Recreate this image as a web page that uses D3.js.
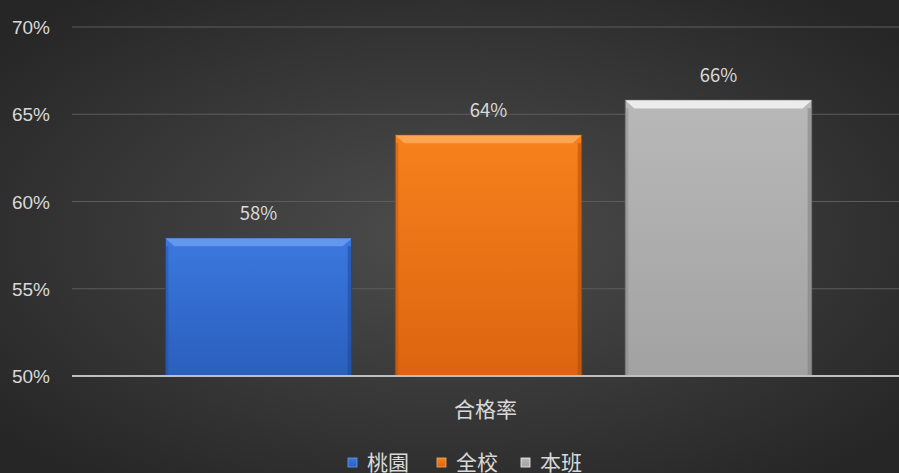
<!DOCTYPE html>
<html>
<head>
<meta charset="utf-8">
<script src="https://cdn.jsdelivr.net/npm/d3@7"></script>
<style>
  html, body { margin: 0; padding: 0; background: #333; overflow: hidden; }
  svg { display: block; font-family: "Microsoft YaHei", "Noto Sans CJK SC", "DejaVu Sans", sans-serif; }
</style>
</head>
<body>
<script>
var categories = ["合格率"];
var seriesNames = ["桃園", "全校", "本班"];
var seriesValues = [0.579, 0.638, 0.658];
var seriesLabels = ["58%", "64%", "66%"];
var tickValues = [0.50, 0.55, 0.60, 0.65, 0.70];

var W = 899, H = 473;
var margin = { top: 27, right: -6, bottom: 97, left: 72 };

var colors = {
    "桃園": { top: "#3b78de", bottom: "#2a5fbd", edge: "#6a9ef0", dark: "#1c4590" },
    "全校": { top: "#f7811c", bottom: "#dc6410", edge: "#ffab5c", dark: "#a84a08" },
    "本班": { top: "#b8b8b8", bottom: "#a2a2a2", edge: "#f4f4f4", dark: "#7a7a7a" }
};

var svg = d3.select("body").append("svg")
    .attr("width", W)
    .attr("height", H);

var defs = svg.append("defs");

//Background radial gradient
var bg = defs.append("radialGradient")
    .attr("id", "bgGrad")
    .attr("cx", "50%").attr("cy", "50%").attr("r", "65%");
bg.append("stop").attr("offset", "0%").attr("stop-color", "#4d4d4d");
bg.append("stop").attr("offset", "100%").attr("stop-color", "#262626");

svg.append("rect")
    .attr("width", W)
    .attr("height", H)
    .attr("fill", "url(#bgGrad)");

//Bar gradients
seriesNames.forEach(function (s, i) {
    var g = defs.append("linearGradient")
        .attr("id", "barGrad" + i)
        .attr("x1", 0).attr("y1", 0).attr("x2", 0).attr("y2", 1);
    g.append("stop").attr("offset", "0%").attr("stop-color", colors[s].top);
    g.append("stop").attr("offset", "100%").attr("stop-color", colors[s].bottom);
});

var x0 = d3.scaleBand()
    .domain(categories)
    .range([margin.left, W - margin.right]);

var x1 = d3.scaleBand()
    .domain(seriesNames)
    .range([0, x0.bandwidth()])
    .paddingInner(0.19)
    .paddingOuter(0.406);

var y = d3.scaleLinear()
    .domain([0.50, 0.70])
    .range([H - margin.bottom, margin.top]);

//Gridlines
svg.append("g")
    .selectAll("line")
    .data(tickValues.slice(1))
    .enter().append("line")
    .attr("x1", margin.left)
    .attr("x2", W)
    .attr("y1", function (d) { return y(d); })
    .attr("y2", function (d) { return y(d); })
    .attr("stroke", "#5c5c5c")
    .attr("stroke-width", 1);

//Y axis labels
var yAxis = d3.axisLeft(y)
    .tickValues(tickValues)
    .tickFormat(d3.format(".0%"))
    .tickSize(0)
    .tickPadding(0);

var yg = svg.append("g")
    .attr("transform", "translate(" + (margin.left - 22) + ",0)")
    .call(yAxis);
yg.select(".domain").remove();
yg.selectAll("text")
    .attr("fill", "#d9d9d9")
    .attr("font-size", 19)
    .attr("dy", "0.35em");

//Bars
var group = svg.append("g")
    .selectAll("g")
    .data(categories)
    .enter().append("g")
    .attr("transform", function (d) { return "translate(" + x0(d) + ",0)"; });

var bars = group.selectAll(".bar")
    .data(seriesNames.map(function (s, i) {
        return { name: s, value: seriesValues[i], label: seriesLabels[i], i: i };
    }))
    .enter().append("g")
    .attr("class", "bar");

bars.append("rect")
    .attr("x", function (d) { return x1(d.name); })
    .attr("y", function (d) { return y(d.value); })
    .attr("width", x1.bandwidth())
    .attr("height", function (d) { return y(0.50) - y(d.value); })
    .attr("fill", function (d) { return "url(#barGrad" + d.i + ")"; })
    .attr("stroke", function (d) { return colors[d.name].dark; })
    .attr("stroke-width", 1);

//Bevel top edge
bars.append("path")
    .attr("d", function (d) {
        var bx = x1(d.name), by = y(d.value), bw = x1.bandwidth(), b = 9;
        return "M" + bx + "," + by + "L" + (bx + bw) + "," + by +
            "L" + (bx + bw - b) + "," + (by + b * 0.9) + "L" + (bx + b) + "," + (by + b * 0.9) + "Z";
    })
    .attr("fill", function (d) { return colors[d.name].edge; })
    .attr("opacity", 0.85);

//Side shade
bars.append("rect")
    .attr("x", function (d) { return x1(d.name) + x1.bandwidth() - 4; })
    .attr("y", function (d) { return y(d.value) + 8; })
    .attr("width", 4)
    .attr("height", function (d) { return y(0.50) - y(d.value) - 8; })
    .attr("fill", function (d) { return colors[d.name].dark; })
    .attr("opacity", 0.5);

bars.append("rect")
    .attr("x", function (d) { return x1(d.name); })
    .attr("y", function (d) { return y(d.value) + 8; })
    .attr("width", 3)
    .attr("height", function (d) { return y(0.50) - y(d.value) - 8; })
    .attr("fill", function (d) { return colors[d.name].dark; })
    .attr("opacity", 0.35);

//Value labels
bars.append("text")
    .attr("x", function (d) { return x1(d.name) + x1.bandwidth() / 2; })
    .attr("y", function (d) { return y(d.value) - 18; })
    .attr("text-anchor", "middle")
    .attr("fill", "#d9d9d9")
    .attr("font-size", 18.5)
    .text(function (d) { return d.label; });

//X axis baseline
svg.append("line")
    .attr("x1", margin.left)
    .attr("x2", W)
    .attr("y1", y(0.50))
    .attr("y2", y(0.50))
    .attr("stroke", "#bfbfbf")
    .attr("stroke-width", 2);

//Category label
svg.append("g")
    .selectAll("text")
    .data(categories)
    .enter().append("text")
    .attr("x", function (d) { return x0(d) + x0.bandwidth() / 2 - 3; })
    .attr("y", 417)
    .attr("text-anchor", "middle")
    .attr("fill", "#d9d9d9")
    .attr("font-size", 21)
    .text(function (d) { return d; });

//Legend
var legendX = [348, 437, 521];
var legend = svg.append("g")
    .selectAll("g")
    .data(seriesNames)
    .enter().append("g")
    .attr("transform", function (d, i) { return "translate(" + legendX[i] + ",463)"; });

legend.append("rect")
    .attr("x", 0)
    .attr("y", -5)
    .attr("width", 9)
    .attr("height", 9)
    .attr("fill", function (d, i) { return "url(#barGrad" + i + ")"; })
    .attr("stroke", function (d) { return colors[d].edge; })
    .attr("stroke-width", 0.8);

legend.append("text")
    .attr("x", 19)
    .attr("y", 0)
    .attr("dy", "0.35em")
    .attr("fill", "#d9d9d9")
    .attr("font-size", 21)
    .text(function (d) { return d; });
</script>
</body>
</html>
